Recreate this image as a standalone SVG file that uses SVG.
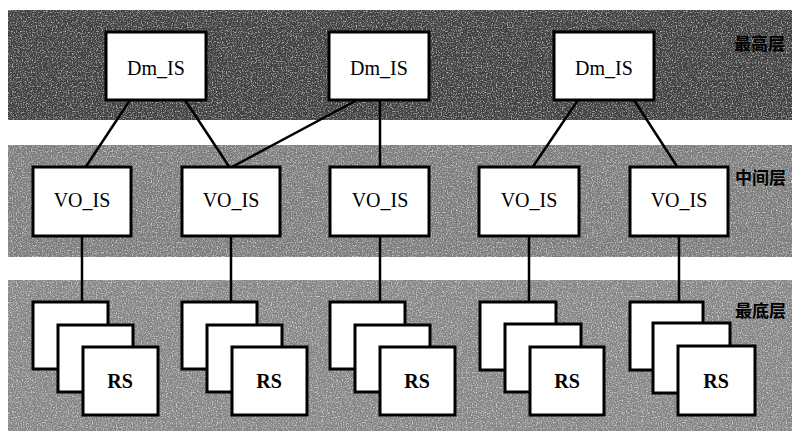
<svg xmlns="http://www.w3.org/2000/svg" width="792" height="431" viewBox="0 0 792 431">
<style>
.box{fill:#fff;stroke:#000;stroke-width:3}
.lbl{font-family:"Liberation Serif","Times New Roman",serif;font-size:20px;fill:#000;text-anchor:middle}
.rs{font-weight:bold}
.layer{font-family:"Noto Sans CJK SC","Noto Sans",sans-serif;font-size:17px;font-weight:bold;fill:#000}
.conn line{stroke:#000;stroke-width:2.5}
</style>
<defs>
<filter id="grain" x="0" y="0" width="100%" height="100%">
<feTurbulence type="fractalNoise" baseFrequency="0.8" numOctaves="2" seed="7"/>
<feColorMatrix type="matrix" values="0 0 0 0 1  0 0 0 0 1  0 0 0 0 1  0 0 0 -3 1.6"/>
<feComposite in2="SourceGraphic" operator="in"/>
</filter>
</defs>
<rect width="792" height="431" fill="#fff"/>
<g id="bands">
<rect x="8" y="10" width="784" height="110" fill="#404040"/>
<rect x="8" y="145" width="784" height="112" fill="#7c7c7c"/>
<rect x="8" y="280" width="784" height="151" fill="#858585"/>
<g filter="url(#grain)" opacity="0.6">
<rect x="8" y="10" width="784" height="110" fill="#fff"/>
<rect x="8" y="145" width="784" height="112" fill="#fff"/>
<rect x="8" y="280" width="784" height="151" fill="#fff"/>
</g>
</g>
<g id="connectors" class="conn">
<line x1="130" y1="100" x2="85" y2="168"/>
<line x1="185" y1="100" x2="230" y2="168"/>
<line x1="357" y1="100" x2="230" y2="168"/>
<line x1="380" y1="100" x2="380" y2="168"/>
<line x1="578" y1="100" x2="532" y2="168"/>
<line x1="634" y1="100" x2="678" y2="168"/>
<line x1="82" y1="236" x2="82" y2="302"/>
<line x1="231" y1="236" x2="231" y2="302"/>
<line x1="380" y1="236" x2="380" y2="302"/>
<line x1="529" y1="236" x2="529" y2="302"/>
<line x1="679" y1="236" x2="679" y2="302"/>
</g>
<g id="dm1"><rect class="box" x="106" y="32" width="100" height="68"/><text class="lbl" x="156" y="75">Dm_IS</text></g>
<g id="dm2"><rect class="box" x="329" y="32" width="100" height="68"/><text class="lbl" x="379" y="75">Dm_IS</text></g>
<g id="dm3"><rect class="box" x="554" y="32" width="100" height="68"/><text class="lbl" x="604" y="75">Dm_IS</text></g>
<g id="vo1"><rect class="box" x="33" y="167" width="98" height="69"/><text class="lbl" x="82" y="207">VO_IS</text></g>
<g id="vo2"><rect class="box" x="182" y="167" width="98" height="69"/><text class="lbl" x="231" y="207">VO_IS</text></g>
<g id="vo3"><rect class="box" x="330" y="167" width="99" height="69"/><text class="lbl" x="380" y="207">VO_IS</text></g>
<g id="vo4"><rect class="box" x="479" y="167" width="100" height="69"/><text class="lbl" x="529" y="207">VO_IS</text></g>
<g id="vo5"><rect class="box" x="630" y="167" width="98" height="69"/><text class="lbl" x="679" y="207">VO_IS</text></g>
<g id="rs1"><rect class="box" x="33" y="302" width="75" height="67"/><rect class="box" x="58" y="325" width="75" height="67"/><rect class="box" x="83" y="347" width="75" height="68"/><text class="lbl rs" x="120" y="388">RS</text></g>
<g id="rs2"><rect class="box" x="182" y="302" width="75" height="67"/><rect class="box" x="207" y="325" width="75" height="67"/><rect class="box" x="232" y="347" width="75" height="68"/><text class="lbl rs" x="269" y="388">RS</text></g>
<g id="rs3"><rect class="box" x="330" y="302" width="75" height="67"/><rect class="box" x="355" y="325" width="75" height="67"/><rect class="box" x="380" y="347" width="75" height="68"/><text class="lbl rs" x="417" y="388">RS</text></g>
<g id="rs4"><rect class="box" x="480" y="302" width="76" height="68"/><rect class="box" x="505" y="324" width="76" height="68"/><rect class="box" x="530" y="347" width="74" height="68"/><text class="lbl rs" x="567" y="388">RS</text></g>
<g id="rs5"><rect class="box" x="630" y="302" width="73" height="68"/><rect class="box" x="653" y="323" width="77" height="70"/><rect class="box" x="678" y="346" width="77" height="69"/><text class="lbl rs" x="716" y="388">RS</text></g>
<g id="labels">
<text class="layer" x="734" y="50">最高层</text>
<text class="layer" x="735" y="184">中间层</text>
<text class="layer" x="735" y="317">最底层</text>
</g>
</svg>
